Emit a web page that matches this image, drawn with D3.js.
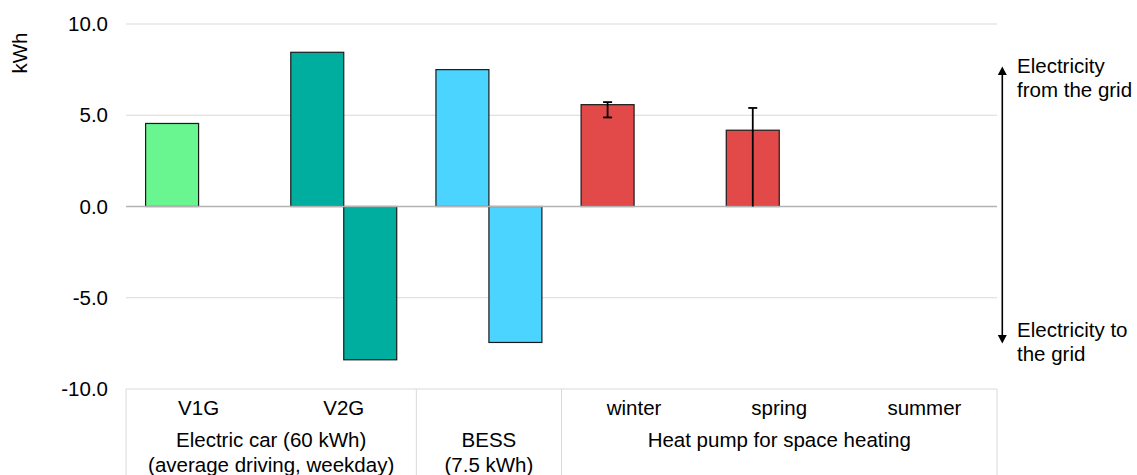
<!DOCTYPE html>
<html><head><meta charset="utf-8">
<script src="https://cdn.jsdelivr.net/npm/d3@7"></script>
<style>body{margin:0;background:#fff}svg{display:block}text{font-family:"Liberation Sans",Arial,sans-serif;fill:#000}</style>
</head><body><svg id="c" width="1137" height="475"></svg>
<script>
const categories = ["V1G","V2G","BESS","winter","spring","summer"];
const groups = [
  {label:["Electric car (60 kWh)","(average driving, weekday)"], from:0, to:1},
  {label:["BESS","(7.5 kWh)"], from:2, to:2},
  {label:["Heat pump for space heating"], from:3, to:5}
];
const categoryTickLabels = ["V1G","V2G","","winter","spring","summer"];
const fromGrid = [4.55, 8.45, 7.5, 5.58, 4.18, 0];
const toGrid   = [0, -8.4, -7.45, 0, 0, 0];
const errPlus  = [0, 0, 0, 0.14, 1.22, 0];
const errMinus = [0, 0, 0, 0.7, 4.18, 0];
const barColors = ["#69F58F","#00AEA0","#4AD4FF","#E24A4A","#E24A4A","#E24A4A"];
const yTicks = [-10,-5,0,5,10];
const annotations = [["Electricity",73],["from the grid",97],["Electricity to",337],["the grid",361]];

const FS = 20.5;
const svg = d3.select("#c");
const L=126, R=997, T=24, B=389;
const x = d3.scaleBand().domain(categories).range([L,R]).paddingInner(0).paddingOuter(0);
const inner = d3.scaleBand().domain(["from","to"]).range([0,x.bandwidth()]).paddingOuter(0.37).paddingInner(0);
const y = d3.scaleLinear().domain([-10,10]).range([B,T]);

// gridlines
svg.append("g").selectAll("line").data(yTicks.filter(d=>d!==0 && d!==-10)).join("line")
  .attr("x1",L).attr("x2",R).attr("y1",d=>y(d)).attr("y2",d=>y(d))
  .attr("stroke","#d9d9d9").attr("stroke-width",1);

// y axis labels
const fmt = d=>d3.format(".1f")(d).replace("\u2212","-");
const yAxis = d3.axisLeft(y).tickValues(yTicks).tickFormat(fmt).tickSize(0).tickPadding(18);
const ya = svg.append("g").attr("transform",`translate(${L},0)`).call(yAxis);
ya.attr("font-size",FS).attr("font-family",null);
ya.select(".domain").remove();
ya.selectAll("text").attr("font-size",FS).attr("fill","#000");

svg.append("text").attr("transform",`translate(27,53) rotate(-90)`).attr("text-anchor","middle")
  .attr("font-size",FS).text("kWh");

// bars
const bars = [];
categories.forEach((c,i)=>{
  if(fromGrid[i]!==0) bars.push({c,s:"from",v:fromGrid[i],col:barColors[i]});
  if(toGrid[i]!==0) bars.push({c,s:"to",v:toGrid[i],col:barColors[i]});
});
svg.append("g").selectAll("rect").data(bars).join("rect")
  .attr("x",d=>x(d.c)+inner(d.s)).attr("width",inner.bandwidth())
  .attr("y",d=>y(Math.max(0,d.v))).attr("height",d=>Math.abs(y(d.v)-y(0)))
  .attr("fill",d=>d.col).attr("stroke","#1a1a1a").attr("stroke-width",1.2);

// zero line
svg.append("line").attr("x1",L).attr("x2",R).attr("y1",y(0)).attr("y2",y(0)).attr("stroke","#b3b3b3").attr("stroke-width",1.5);

// error bars
const eg = svg.append("g");
categories.forEach((c,i)=>{
  if(!errPlus[i] && !errMinus[i]) return;
  const cx = x(c)+inner("from")+inner.bandwidth()/2;
  const v = fromGrid[i];
  const top = y(v+errPlus[i]), bot = y(v-errMinus[i]);
  eg.append("line").attr("x1",cx).attr("x2",cx).attr("y1",top).attr("y2",bot).attr("stroke","#000").attr("stroke-width",1.8);
  eg.append("line").attr("x1",cx-4.5).attr("x2",cx+4.5).attr("y1",top).attr("y2",top).attr("stroke","#000").attr("stroke-width",1.8);
  if(v-errMinus[i]>0.01)
    eg.append("line").attr("x1",cx-4.5).attr("x2",cx+4.5).attr("y1",bot).attr("y2",bot).attr("stroke","#000").attr("stroke-width",1.8);
});

// bottom category axis
const ax = svg.append("g");
ax.append("line").attr("x1",L).attr("x2",R).attr("y1",B).attr("y2",B).attr("stroke","#d9d9d9");
const seps = [L, x(categories[2]), x(categories[3]), R];
seps.forEach(s=>ax.append("line").attr("x1",s).attr("x2",s).attr("y1",B).attr("y2",475).attr("stroke","#d9d9d9"));
categories.forEach((c,i)=>{
  if(!categoryTickLabels[i]) return;
  ax.append("text").attr("x",x(c)+x.bandwidth()/2).attr("y",415).attr("text-anchor","middle").attr("font-size",FS).text(categoryTickLabels[i]);
});
groups.forEach(g=>{
  const cx = (x(categories[g.from]) + x(categories[g.to]) + x.bandwidth())/2;
  g.label.forEach((t,j)=>{
    ax.append("text").attr("x",cx).attr("y",447+j*25).attr("text-anchor","middle").attr("font-size",FS).text(t);
  });
});

// right annotation: double-headed arrow
const ag = svg.append("g");
const axX = 1002.3, tipTop = 66.5, tipBot = 343.5, hh = 8.5, hw = 4.5;
ag.append("line").attr("x1",axX).attr("x2",axX).attr("y1",tipTop+hh-1).attr("y2",tipBot-hh+1)
  .attr("stroke","#000").attr("stroke-width",1.6);
ag.append("path").attr("d",`M${axX},${tipTop} L${axX+hw},${tipTop+hh} L${axX-hw},${tipTop+hh} Z`).attr("fill","#000");
ag.append("path").attr("d",`M${axX},${tipBot} L${axX+hw},${tipBot-hh} L${axX-hw},${tipBot-hh} Z`).attr("fill","#000");
annotations.forEach(a=>svg.append("text").attr("x",1017).attr("y",a[1]).attr("font-size",FS).text(a[0]));
</script></body></html>
